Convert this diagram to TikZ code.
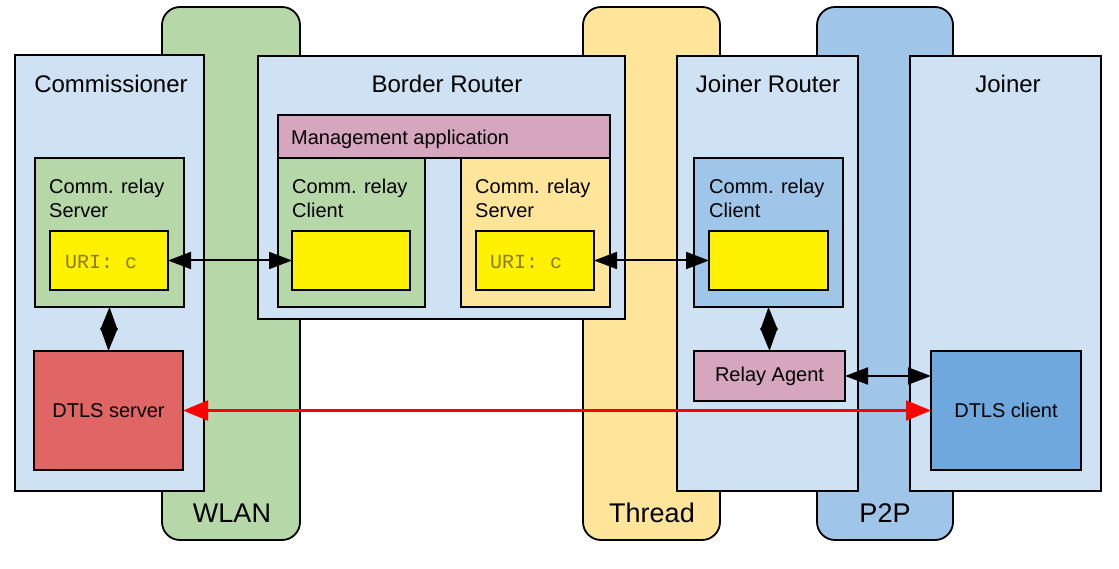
\documentclass[tikz,border=0pt]{standalone}
\usepackage{fontspec}
\setmainfont{Liberation Sans}
\setmonofont{Liberation Mono}
\usepackage{xcolor}
\usetikzlibrary{arrows.meta}

\definecolor{pale}{RGB}{207,226,243}
\definecolor{wlangreen}{RGB}{182,215,168}
\definecolor{threadorange}{RGB}{255,229,153}
\definecolor{ptpblue}{RGB}{159,197,232}
\definecolor{mgmtpink}{RGB}{213,166,189}
\definecolor{dtlsred}{RGB}{224,102,102}
\definecolor{dtlsblue}{RGB}{111,168,220}
\definecolor{urigold}{RGB}{140,122,20}

\begin{document}
\begin{tikzpicture}[x=1pt,y=-1pt,
  box/.style={draw,line width=1.8pt,inner sep=0pt,outer sep=0pt,anchor=north west},
  band/.style={box,rounded corners=18pt},
  title/.style={font=\fontsize{24}{28}\selectfont,inner sep=0pt,anchor=base},
  lbl/.style={font=\fontsize{20}{24}\selectfont,inner sep=0pt,align=left,anchor=north west},
  uri/.style={font=\ttfamily\fontsize{20}{24}\selectfont,text=urigold,inner sep=0pt,anchor=base west},
  net/.style={font=\fontsize{27}{32}\selectfont,inner sep=0pt,anchor=base},
  blk/.style={{Triangle[length=23pt,width=17pt]}-{Triangle[length=23pt,width=17pt]},line width=2pt},
  redarr/.style={{Triangle[length=25pt,width=20pt]}-{Triangle[length=25pt,width=20pt]},line width=2.2pt,red}]
\useasboundingbox (0,0) rectangle (1119,569);

% networks behind the devices
\node[band,fill=wlangreen,minimum width=138,minimum height=533] (wlan) at (162,7) {};
\node[band,fill=threadorange,minimum width=137,minimum height=533] (thread) at (583,7) {};
\node[band,fill=ptpblue,minimum width=136,minimum height=533] (ptp) at (817,7) {};
\node[net] (wlanlbl) at (232,522) {WLAN};
\node[net] (threadlbl) at (652,522) {Thread};
\node[net] (ptplbl) at (885,522) {P2P};

% devices
\node[box,fill=pale,minimum width=189,minimum height=436] (comm) at (15,55) {};
\node[box,fill=pale,minimum width=367,minimum height=263] (br) at (258,56) {};
\node[box,fill=pale,minimum width=181,minimum height=435] (jr) at (677,56) {};
\node[box,fill=pale,minimum width=191,minimum height=435] (joiner) at (910,56) {};
\node[title] (commlbl) at (111,93) {Commissioner};
\node[title] (brlbl) at (447,93) {Border Router};
\node[title] (jrlbl) at (768,93) {Joiner Router};
\node[title] (joinerlbl) at (1008,93) {Joiner};

% commissioner
\node[box,fill=wlangreen,minimum width=149,minimum height=149] (srv1) at (35,158) {};
\node[lbl] (srv1lbl) at (49,179) {Comm. relay\\Server};
\node[box,fill=yellow,minimum width=118,minimum height=59] (uri1) at (50,231) {};
\node[uri] (uri1lbl) at (65,269) {URI: c};
\node[box,fill=dtlsred,minimum width=149,minimum height=119,font=\fontsize{20}{24}\selectfont] (dtlss) at (34,351) {DTLS server};

% border router
\node[box,fill=mgmtpink,minimum width=332,minimum height=43] (mgmt) at (278,115) {};
\node[inner sep=0pt,anchor=base west,font=\fontsize{20}{24}\selectfont] (mgmtlbl) at (291,145) {Management application};
\node[box,fill=wlangreen,minimum width=147,minimum height=149] (cli1) at (278,158) {};
\node[lbl] (cli1lbl) at (292,179) {Comm. relay\\Client};
\node[box,fill=yellow,minimum width=118,minimum height=59] (yc1) at (292,231) {};
\node[box,fill=threadorange,minimum width=149,minimum height=149] (srv2) at (461,158) {};
\node[lbl] (srv2lbl) at (475,179) {Comm. relay\\Server};
\node[box,fill=yellow,minimum width=118,minimum height=59] (uri2) at (476,231) {};
\node[uri] (uri2lbl) at (490,269) {URI: c};

% joiner router
\node[box,fill=ptpblue,minimum width=149,minimum height=149] (cli2) at (694,158) {};
\node[lbl] (cli2lbl) at (709,179) {Comm. relay\\Client};
\node[box,fill=yellow,minimum width=119,minimum height=59] (yc2) at (709,231) {};
\node[box,fill=mgmtpink,minimum width=151,minimum height=50,font=\fontsize{20}{24}\selectfont] (relay) at (694,351) {Relay Agent};

% joiner
\node[box,fill=dtlsblue,minimum width=150,minimum height=119,font=\fontsize{20}{24}\selectfont] (dtlsc) at (931,351) {DTLS client};

% links
\draw[blk] (uri1) -- (yc1);
\draw[blk] (uri2) -- (yc2);
\draw[blk] (srv1.south) -- (dtlss.north);
\draw[blk] (cli2.south) -- (relay.north);
\draw[blk] (relay.east) -- (relay.east -| dtlsc.west);
\draw[redarr] (dtlss.east) -- (dtlsc.west);
\end{tikzpicture}
\end{document}
